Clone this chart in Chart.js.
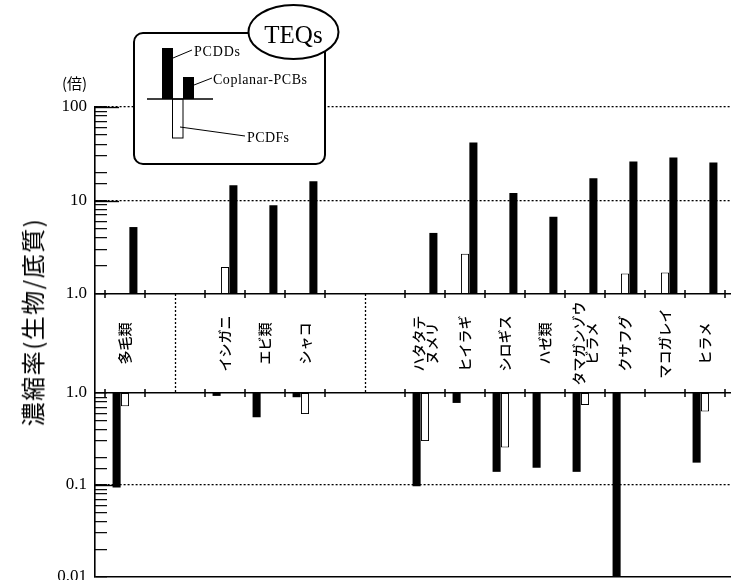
<!DOCTYPE html>
<html><head><meta charset="utf-8">
<script src="https://cdn.jsdelivr.net/npm/chart.js@4.4.0/dist/chart.umd.min.js"></script>
<style>
html,body{margin:0;padding:0;background:#fff;overflow:hidden;width:731px;height:580px}
#wrap{position:relative;width:731px;height:580px;overflow:hidden}
#c{position:absolute;left:0;top:0}
.ytitle{position:absolute;left:32px;top:322px;transform:translate(-50%,-50%) rotate(-90deg);font-family:"Noto Sans CJK JP";font-size:24px;letter-spacing:1.5px;white-space:nowrap;color:#000;line-height:1}
.unit{position:absolute;left:62px;top:75px;font-family:"Noto Sans CJK JP";font-size:15px;color:#000;line-height:1}
svg.leg{position:absolute;left:0;top:0}
</style></head>
<body><div id="wrap">
<canvas id="c" width="735" height="580"></canvas>
<div class="ytitle">濃縮率(生物/底質)</div>
<div class="unit">(倍)</div>
<svg class="leg" width="731" height="580" xmlns="http://www.w3.org/2000/svg">
  <rect x="134" y="33" width="191" height="131" rx="9" ry="9" fill="#fff" stroke="#000" stroke-width="2"/>
  <ellipse cx="293.5" cy="32" rx="45" ry="27" fill="#fff" stroke="#000" stroke-width="2"/>
  <text x="293.5" y="43" text-anchor="middle" font-family="Liberation Serif" font-size="25">TEQs</text>
  <rect x="162" y="48" width="11" height="51" fill="#000"/>
  <rect x="183" y="77" width="11" height="22" fill="#000"/>
  <rect x="172.5" y="99" width="10.5" height="39" fill="#fff" stroke="#000" stroke-width="1"/>
  <line x1="147" y1="99" x2="213" y2="99" stroke="#000" stroke-width="1.5"/>
  <line x1="173" y1="58" x2="192" y2="50" stroke="#000" stroke-width="1"/>
  <line x1="194" y1="85" x2="212" y2="78" stroke="#000" stroke-width="1"/>
  <line x1="180" y1="127" x2="245" y2="136" stroke="#000" stroke-width="1"/>
  <text x="194" y="56" font-family="Liberation Serif" font-size="14" textLength="46">PCDDs</text>
  <text x="213" y="84" font-family="Liberation Serif" font-size="14" textLength="94">Coplanar-PCBs</text>
  <text x="247" y="142" font-family="Liberation Serif" font-size="14" textLength="42">PCDFs</text>
</svg>
</div>
<script>
// ---- data ----
const categories = ['多毛類','イシガニ','エビ類','シャコ','ハタタテヌメリ','ヒイラギ','シロギス','ハゼ類','タマガンゾウビラメ','クサフグ','マコガレイ','ヒラメ'];
const bandLabels = [['多毛類'],['イシガニ'],['エビ類'],['シャコ'],['ハタタテ','ヌメリ'],['ヒイラギ'],['シロギス'],['ハゼ類'],['タマガンゾウ','ビラメ'],['クサフグ'],['マコガレイ'],['ヒラメ']];
const PCDDs  = [0.094, 0.93, 0.545, 0.90, 0.097, 0.78, 0.139, 0.154, 0.139, 0.01, null, 0.175];
const PCDFs  = [0.72, 1.94, null, 0.59, 0.30, 2.7, 0.255, null, 0.74, 1.66, 1.7, 0.63];
const CoPCBs = [5.2, 14.6, 8.9, 16.1, 4.5, 41.6, 12, 6.7, 17.3, 26.2, 28.8, 25.5];
// category axis slots (blank slots are spacers between groups)
const slotLabels = ['', '多毛類', '', '', '', '', 'イシガニ', '', 'エビ類', '', 'シャコ', '', '', '', '', '',
  'ハタタテヌメリ', '', 'ヒイラギ', '', 'シロギス', '', 'ハゼ類', '', 'タマガンゾウビラメ', '', 'クサフグ', '', 'マコガレイ', '', 'ヒラメ', ''];
const groupStarts = ['イシガニ', 'ハタタテヌメリ'];
const upperTickValues = [1, 10, 100];
const upperTickLabels = ['1.0', '10', '100'];
const lowerTickValues = [0.01, 0.1, 1];
const lowerTickLabels = ['0.01', '0.1', '1.0'];

// ---- build ----
function slotData(values, upper) {
  return slotLabels.map(lbl => {
    const i = categories.indexOf(lbl);
    if (i < 0) return null;
    const v = values[i];
    if (v == null) return null;
    if (upper) return v > 1 ? [1, v] : null;
    return v < 1 ? [v, 1] : null;
  });
}
function near(a, b) { return Math.abs(Math.log10(a) - Math.log10(b)) < 1e-6; }
function findTick(vals, v) { for (let i = 0; i < vals.length; i++) if (near(vals[i], v)) return i; return -1; }

const series = [
  {name: 'PCDDs', values: PCDDs, bg: '#000', bw: 0},
  {name: 'PCDFs', values: PCDFs, bg: '#fff', bw: 1},
  {name: 'Coplanar-PCBs', values: CoPCBs, bg: '#000', bw: 0}
];
const datasets = [];
series.forEach(s => {
  [true, false].forEach(up => {
    datasets.push({
      label: s.name, stack: s.name, yAxisID: up ? 'yTop' : 'yBot',
      data: slotData(s.values, up),
      backgroundColor: s.bg, borderColor: '#000', borderWidth: s.bw, borderSkipped: false,
      categoryPercentage: 1.26, barPercentage: 0.96
    });
  });
});

function logAxis(vals, labels, weight, stackWeight) {
  const lo = vals[0], hi = vals[vals.length - 1];
  return {
    type: 'logarithmic', min: lo, max: hi, position: 'left', stack: 'v', stackWeight, weight,
    stacked: false,
    afterFit: s => { s.width = 95; s.paddingTop = 0; s.paddingBottom = 0; },
    ticks: {
      autoSkip: false, padding: 20, color: '#000',
      font: {family: 'Liberation Serif', size: 17},
      callback: v => { const i = findTick(vals, v); return i >= 0 ? labels[i] : ''; }
    },
    grid: {
      drawTicks: true, tickLength: -12, tickColor: '#000', tickWidth: 1.2,
      color: c => (c.tick && findTick(vals, c.tick.value) >= 0) ? '#000' : 'rgba(0,0,0,0)',
      lineWidth: c => (c.tick && (near(c.tick.value, 1) || near(c.tick.value, 0.01))) ? 1.6 : 1.3
    },
    border: {
      display: true, color: '#000', width: 1.6,
      dash: c => (c.tick && !near(c.tick.value, 1) && !near(c.tick.value, 0.01)) ? [2, 2] : []
    }
  };
}

const bandPlugin = {
  id: 'band',
  afterDraw(chart) {
    const {ctx} = chart;
    const x = chart.scales.x, yTop = chart.scales.yTop, yBot = chart.scales.yBot;
    const yA = yTop.getPixelForValue(1), yB = yBot.getPixelForValue(1);
    const yC = (yA + yB) / 2;
    ctx.save();
    // longer solid major ticks at the dotted decade lines
    ctx.strokeStyle = '#000'; ctx.lineWidth = 1.4;
    [[yTop, [10, 100]], [yBot, [0.1]]].forEach(([sc, vs]) => vs.forEach(v => {
      const py = Math.round(sc.getPixelForValue(v)) + 0.5;
      ctx.beginPath(); ctx.moveTo(sc.right, py); ctx.lineTo(sc.right + 24, py); ctx.stroke();
    }));
    // tick marks on the two band lines, at the edges of each group
    const tickSlots = new Set();
    categories.forEach(c => { const k = slotLabels.indexOf(c); tickSlots.add(k - 1); tickSlots.add(k + 1); });
    ctx.lineWidth = 1.5;
    tickSlots.forEach(k => {
      if (k < 0 || k >= slotLabels.length) return;
      const px = x.getPixelForValue(k);
      [yA, yB].forEach(yy => { ctx.beginPath(); ctx.moveTo(px, yy - 4); ctx.lineTo(px, yy + 4); ctx.stroke(); });
    });
    // dotted separators between groups
    ctx.setLineDash([2, 2]); ctx.lineWidth = 1.3;
    groupStarts.forEach(name => {
      const ci = categories.indexOf(name);
      const k1 = slotLabels.indexOf(categories[ci - 1]), k2 = slotLabels.indexOf(name);
      const px = Math.round((x.getPixelForValue(k1) + x.getPixelForValue(k2)) / 2) + 0.5;
      ctx.beginPath(); ctx.moveTo(px, yA); ctx.lineTo(px, yB); ctx.stroke();
    });
    ctx.setLineDash([]);
    // category labels, rotated
    ctx.fillStyle = '#000';
    ctx.font = '500 14px "Noto Sans CJK JP"';
    ctx.textAlign = 'center'; ctx.textBaseline = 'middle';
    categories.forEach((name, i) => {
      const k = slotLabels.indexOf(name);
      const px = x.getPixelForValue(k);
      const lines = bandLabels[i];
      ctx.save();
      ctx.translate(px, yC);
      ctx.rotate(-Math.PI / 2);
      lines.forEach((ln, j) => ctx.fillText(ln, 0, (j - (lines.length - 1) / 2) * 13));
      ctx.restore();
    });
    ctx.restore();
  }
};

new Chart(document.getElementById('c'), {
  type: 'bar',
  data: {labels: slotLabels, datasets},
  options: {
    responsive: false, animation: false,
    layout: {padding: {top: 107, bottom: 3, left: 0, right: 0}},
    plugins: {legend: {display: false}, tooltip: {enabled: false}},
    scales: {
      x: {type: 'category', display: false, offset: true},
      yBot: logAxis(lowerTickValues, lowerTickLabels, 1, 184),
      yMid: {
        type: 'linear', min: 0, max: 1, position: 'left', stack: 'v', stackWeight: 99, weight: 2,
        afterFit: s => { s.width = 95; s.paddingTop = 0; s.paddingBottom = 0; },
        ticks: {display: false}, grid: {display: false},
        border: {display: true, color: '#000', width: 1.6}
      },
      yTop: logAxis(upperTickValues, upperTickLabels, 3, 187)
    }
  },
  plugins: [bandPlugin]
});
</script>
</body></html>
